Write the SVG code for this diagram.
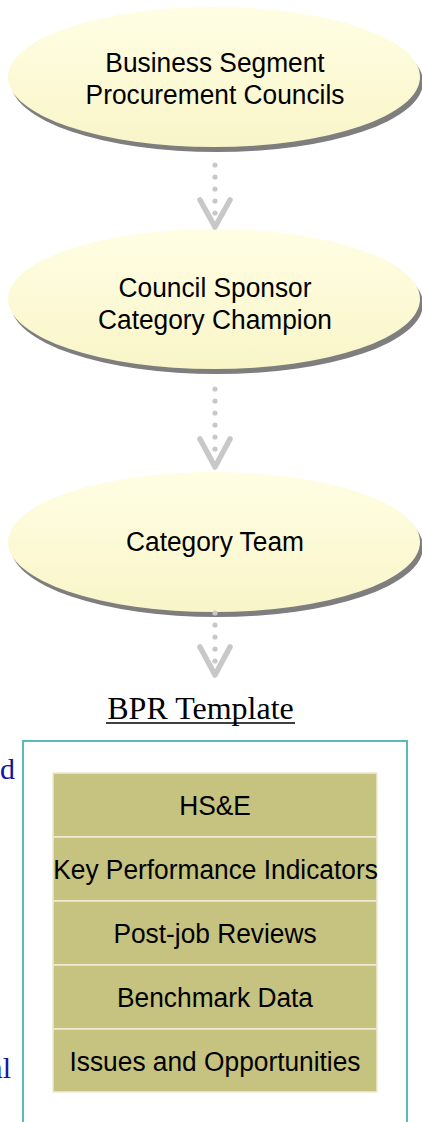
<svg xmlns="http://www.w3.org/2000/svg" width="422" height="1122" viewBox="0 0 422 1122">
<style>
.lbl{font-family:"Liberation Sans",Arial,sans-serif;font-size:28px;fill:#000;text-anchor:middle}
.ser{font-family:"Liberation Serif","Times New Roman",serif}
.conn{stroke:#c8c8c8;stroke-width:5.5;fill:none;stroke-linecap:round;stroke-linejoin:round}
.dot{fill:#c8c8c8}
.row{fill:#c5c37f;stroke:#eeebd6;stroke-width:1.5}
</style>
<defs>
<linearGradient id="eg" x1="0" y1="0" x2="0" y2="1">
<stop offset="0" stop-color="#fffee4"/>
<stop offset="1" stop-color="#f9f5c8"/>
</linearGradient>
<g id="ell">
<ellipse cx="3" cy="5" rx="206" ry="70" fill="#7e7e7e"/>
<ellipse cx="0" cy="0" rx="206" ry="70" fill="url(#eg)"/>
</g>
</defs>

<g id="node1">
<use href="#ell" x="214" y="77"/>
<text class="lbl" transform="matrix(0.94 0 0 1 215 0)" x="0" y="72">Business Segment</text>
<text class="lbl" transform="matrix(0.94 0 0 1 215 0)" x="0" y="104">Procurement Councils</text>
</g>

<g id="node2">
<use href="#ell" x="214" y="299"/>
<text class="lbl" transform="matrix(0.94 0 0 1 215 0)" x="0" y="297">Council Sponsor</text>
<text class="lbl" transform="matrix(0.94 0 0 1 215 0)" x="0" y="329">Category Champion</text>
</g>

<g id="node3">
<use href="#ell" x="214" y="542"/>
<text class="lbl" transform="matrix(0.94 0 0 1 215 0)" x="0" y="551">Category Team</text>
</g>

<g id="connectors">
<g>
<circle class="dot" cx="215" cy="165" r="2.6"/>
<circle class="dot" cx="215" cy="177" r="2.6"/>
<circle class="dot" cx="215" cy="189" r="2.6"/>
<circle class="dot" cx="215" cy="201" r="2.6"/>
<circle class="dot" cx="215" cy="213" r="2.6"/>
<polyline class="conn" points="200,200 215,227 230,200"/>
</g>
<g>
<circle class="dot" cx="215" cy="389" r="2.6"/>
<circle class="dot" cx="215" cy="401" r="2.6"/>
<circle class="dot" cx="215" cy="413" r="2.6"/>
<circle class="dot" cx="215" cy="425" r="2.6"/>
<circle class="dot" cx="215" cy="437" r="2.6"/>
<circle class="dot" cx="215" cy="449" r="2.6"/>
<polyline class="conn" points="200,439 215,467 230,439"/>
</g>
<g>
<circle class="dot" cx="215" cy="613" r="2.6"/>
<circle class="dot" cx="215" cy="625" r="2.6"/>
<circle class="dot" cx="215" cy="637" r="2.6"/>
<circle class="dot" cx="215" cy="649" r="2.6"/>
<circle class="dot" cx="215" cy="661" r="2.6"/>
<polyline class="conn" points="200,647 215,675 230,647"/>
</g>
</g>

<g id="title">
<text class="ser" x="200.5" y="719" font-size="32" text-anchor="middle" fill="#000">BPR Template</text>
<line x1="106" y1="723" x2="295" y2="723" stroke="#000" stroke-width="1.6"/>
</g>

<g id="side-text">
<text class="ser" x="15" y="779" font-size="30" text-anchor="end" fill="#1414a0">d</text>
<text class="ser" x="11" y="1078" font-size="30" text-anchor="end" fill="#1414a0">al</text>
</g>

<g id="template-box">
<rect x="23" y="741" width="384" height="400" fill="#fff" stroke="#5ab9b9" stroke-width="2"/>
</g>

<g id="row-hse">
<rect class="row" x="53" y="773" width="324" height="64"/>
<text class="lbl" transform="matrix(0.94 0 0 1 215 0)" x="0" y="815">HS&amp;E</text>
</g>
<g id="row-kpi">
<rect class="row" x="53" y="837" width="324" height="64"/>
<text class="lbl" transform="matrix(0.94 0 0 1 215.5 0)" x="0" y="879">Key Performance Indicators</text>
</g>
<g id="row-pjr">
<rect class="row" x="53" y="901" width="324" height="64"/>
<text class="lbl" transform="matrix(0.94 0 0 1 215 0)" x="0" y="943">Post-job Reviews</text>
</g>
<g id="row-bench">
<rect class="row" x="53" y="965" width="324" height="64"/>
<text class="lbl" transform="matrix(0.94 0 0 1 215 0)" x="0" y="1007">Benchmark Data</text>
</g>
<g id="row-issues">
<rect class="row" x="53" y="1029" width="324" height="63"/>
<text class="lbl" transform="matrix(0.94 0 0 1 215 0)" x="0" y="1071">Issues and Opportunities</text>
</g>
</svg>
